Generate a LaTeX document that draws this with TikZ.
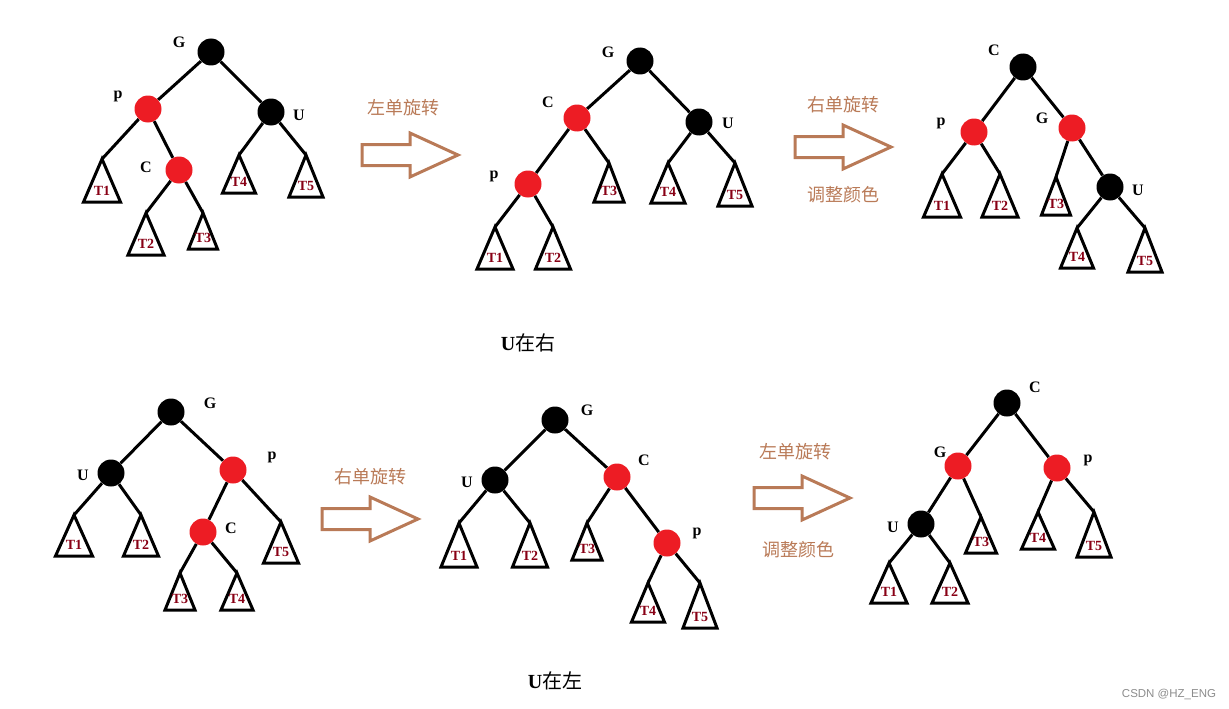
\documentclass[tikz,border=0pt]{standalone}
\usepackage{fontspec}
\setmainfont{Liberation Serif}
\newfontfamily\cjk{Noto Sans CJK SC}
\newfontfamily\wmk{Liberation Sans}
\definecolor{nodered}{RGB}{237,28,36}
\definecolor{tred}{RGB}{136,0,21}
\definecolor{brownish}{RGB}{185,122,87}

\begin{document}
\begin{tikzpicture}[x=1pt,y=-1pt,
    blk/.style={circle,fill=black,minimum size=27pt,inner sep=0pt},
    rd/.style={circle,fill=nodered,minimum size=27pt,inner sep=0pt},
    lab/.style={font=\fontsize{16}{16}\selectfont\bfseries,inner sep=0pt},
    tlab/.style={font=\fontsize{14}{14}\selectfont\bfseries,text=tred,inner sep=0pt},
    edge/.style={line width=3pt},
    tri/.style={line width=3pt},
    hollow/.style={draw=brownish,line width=3pt},
    cn/.style={font=\cjk\fontsize{18}{18}\selectfont,text=brownish,inner sep=0pt},
    ]

            \useasboundingbox (0,0) rectangle (1229,709);

            % subtrees: tree/index/apex x/apex y/base width/height
            \foreach \t/\i/\x/\y/\w/\h in {
                a/1/102/159/37/43, a/2/146/213/36/42, a/3/203/213/29/36, a/4/239/155/33/38, a/5/306/155/34/42,
                b/1/495/227/36/42, b/2/553/227/35/42, b/3/609/163/30/39, b/4/668/163/34/40, b/5/735/163/34/43,
                c/1/942/174/37/43, c/2/1000/174/36/43, c/3/1056/177/29/38, c/4/1077/228/33/40, c/5/1145/228/34/44,
                d/1/74/515/37/41, d/2/141/515/35/41, d/3/180/573/30/37, d/4/237/573/32/37, d/5/281/522/35/41,
                e/1/459/523/36/44, e/2/530/523/35/44, e/3/587/523/30/37, e/4/648/583/33/39, e/5/700/583/34/45,
                f/1/889/563/36/40, f/2/950/563/36/40, f/3/981/517/31/36, f/4/1038/512/33/37, f/5/1094/512/34/45}
            {
                \coordinate (\t\i) at (\x,\y);
                \draw[tri] (\t\i) -- ++({-\w/2},\h) -- ++(\w,0) -- cycle;
                \node[tlab] (\t\i l) at (\x,{\y+\h-11}) {T\i};
            }

            % tree a
            \node[blk] (aG) at (211,52) {};
            \node[rd]  (ap) at (148,109) {};
            \node[blk] (aU) at (271,112) {};
            \node[rd]  (aC) at (179,170) {};
            \node[lab] (aGl) at (179,42) {G};
            \node[lab] (apl) at (118,96) {p};
            \node[lab] (aUl) at (299,115) {U};
            \node[lab] (aCl) at (146,167) {C};
            \draw[edge] (aG) -- (ap);
            \draw[edge] (aG) -- (aU);
            \draw[edge] (ap) -- (a1);
            \draw[edge] (ap) -- (aC);
            \draw[edge] (aC) -- (a2);
            \draw[edge] (aC) -- (a3);
            \draw[edge] (aU) -- (a4);
            \draw[edge] (aU) -- (a5);

            % tree b
            \node[blk] (bG) at (640,61) {};
            \node[rd]  (bC) at (577,118) {};
            \node[blk] (bU) at (699,122) {};
            \node[rd]  (bp) at (528,184) {};
            \node[lab] (bGl) at (608,52) {G};
            \node[lab] (bCl) at (548,102) {C};
            \node[lab] (bUl) at (728,123) {U};
            \node[lab] (bpl) at (494,176) {p};
            \draw[edge] (bG) -- (bC);
            \draw[edge] (bG) -- (bU);
            \draw[edge] (bC) -- (bp);
            \draw[edge] (bC) -- (b3);
            \draw[edge] (bp) -- (b1);
            \draw[edge] (bp) -- (b2);
            \draw[edge] (bU) -- (b4);
            \draw[edge] (bU) -- (b5);

            % tree c
            \node[blk] (cC) at (1023,67) {};
            \node[rd]  (cp) at (974,132) {};
            \node[rd]  (cG) at (1072,128) {};
            \node[blk] (cU) at (1110,187) {};
            \node[lab] (cCl) at (994,50) {C};
            \node[lab] (cpl) at (941,123) {p};
            \node[lab] (cGl) at (1042,118) {G};
            \node[lab] (cUl) at (1138,190) {U};
            \draw[edge] (cC) -- (cp);
            \draw[edge] (cC) -- (cG);
            \draw[edge] (cp) -- (c1);
            \draw[edge] (cp) -- (c2);
            \draw[edge] (cG) -- (c3);
            \draw[edge] (cG) -- (cU);
            \draw[edge] (cU) -- (c4);
            \draw[edge] (cU) -- (c5);

            % tree d
            \node[blk] (dG) at (171,412) {};
            \node[blk] (dU) at (111,473) {};
            \node[rd]  (dp) at (233,470) {};
            \node[rd]  (dC) at (203,532) {};
            \node[lab] (dGl) at (210,403) {G};
            \node[lab] (dUl) at (83,475) {U};
            \node[lab] (dpl) at (272,457) {p};
            \node[lab] (dCl) at (231,528) {C};
            \draw[edge] (dG) -- (dU);
            \draw[edge] (dG) -- (dp);
            \draw[edge] (dU) -- (d1);
            \draw[edge] (dU) -- (d2);
            \draw[edge] (dp) -- (dC);
            \draw[edge] (dp) -- (d5);
            \draw[edge] (dC) -- (d3);
            \draw[edge] (dC) -- (d4);

            % tree e
            \node[blk] (eG) at (555,420) {};
            \node[blk] (eU) at (495,480) {};
            \node[rd]  (eC) at (617,477) {};
            \node[rd]  (ep) at (667,543) {};
            \node[lab] (eGl) at (587,410) {G};
            \node[lab] (eUl) at (467,482) {U};
            \node[lab] (eCl) at (644,460) {C};
            \node[lab] (epl) at (697,533) {p};
            \draw[edge] (eG) -- (eU);
            \draw[edge] (eG) -- (eC);
            \draw[edge] (eU) -- (e1);
            \draw[edge] (eU) -- (e2);
            \draw[edge] (eC) -- (e3);
            \draw[edge] (eC) -- (ep);
            \draw[edge] (ep) -- (e4);
            \draw[edge] (ep) -- (e5);

            % tree f
            \node[blk] (fC) at (1007,403) {};
            \node[rd]  (fG) at (958,466) {};
            \node[rd]  (fp) at (1057,468) {};
            \node[blk] (fU) at (921,524) {};
            \node[lab] (fCl) at (1035,387) {C};
            \node[lab] (fGl) at (940,452) {G};
            \node[lab] (fpl) at (1088,460) {p};
            \node[lab] (fUl) at (893,527) {U};
            \draw[edge] (fC) -- (fG);
            \draw[edge] (fC) -- (fp);
            \draw[edge] (fG) -- (fU);
            \draw[edge] (fG) -- (f3);
            \draw[edge] (fU) -- (f1);
            \draw[edge] (fU) -- (f2);
            \draw[edge] (fp) -- (f4);
            \draw[edge] (fp) -- (f5);

            % hollow arrows
            \foreach \x/\y in {362/155, 795/147, 322/519, 754/498}
                \draw[hollow] (\x,\y) ++(0,-10.5) -- ++(48,0) -- ++(0,-11.5)
                    -- ++(48,22) -- ++(-48,22) -- ++(0,-11.5) -- ++(-48,0) -- cycle;

            \node[cn] (rotL1) at (403,108) {左单旋转};
            \node[cn] (rotR1) at (843,105) {右单旋转};
            \node[cn] (fix1) at (843,195) {调整颜色};
            \node[cn] (rotR2) at (370,477) {右单旋转};
            \node[cn] (rotL2) at (795,452) {左单旋转};
            \node[cn] (fix2) at (798,550) {调整颜色};

            \node[inner sep=0pt] (capR) at (528,343) {\fontsize{20}{20}\selectfont\bfseries U\cjk\mdseries 在右};
            \node[inner sep=0pt] (capL) at (555,681) {\fontsize{20}{20}\selectfont\bfseries U\cjk\mdseries 在左};

            \node[font=\wmk\fontsize{11.5}{11.5}\selectfont,text=black!45,inner sep=0pt] (mark) at (1169,694) {CSDN @HZ\_ENG};

\end{tikzpicture}
\end{document}
